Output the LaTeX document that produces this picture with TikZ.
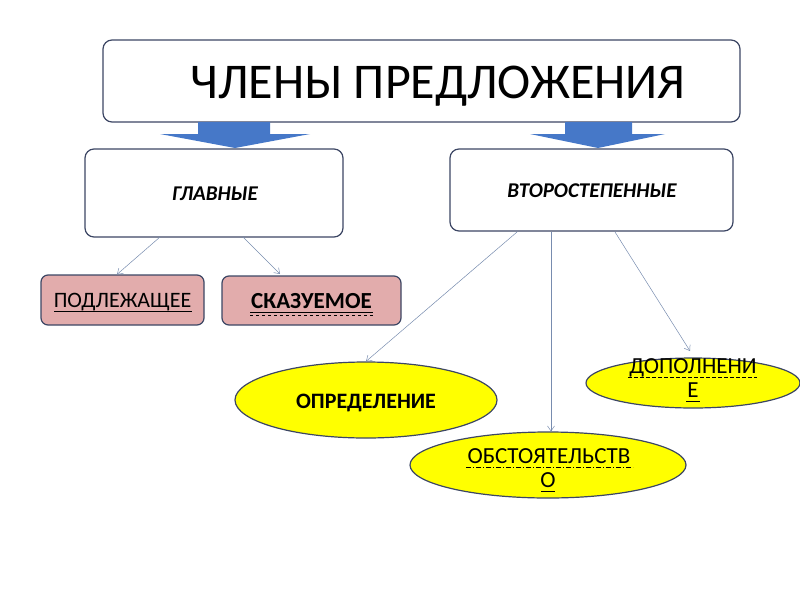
\documentclass[tikz,border=0pt]{standalone}
\usepackage{fontspec}
\setmainfont{Carlito}
\usetikzlibrary{shapes.geometric,arrows.meta}
\definecolor{edge}{RGB}{60,70,100}
\definecolor{pinkf}{RGB}{226,172,172}
\definecolor{yell}{RGB}{255,255,0}
\definecolor{bluea}{RGB}{70,120,200}
\definecolor{conn}{RGB}{120,140,175}
\tikzset{
  box/.style={draw=edge,line width=1.2pt,rounded corners=9pt,fill=white},
  leaf/.style={draw=edge,line width=1.2pt,rounded corners=7pt,fill=pinkf},
  oval/.style={ellipse,draw=edge,line width=1.2pt,fill=yell,inner sep=0pt},
  conn/.style={draw=conn,line width=0.5pt,-{Straight Barb[length=5pt,width=7pt]}},
  downarrow/.style={fill=bluea,draw=none},
  txt/.style={anchor=base,inner sep=0pt}
}
\begin{document}
\begin{tikzpicture}[x=1pt,y=-1pt]
\useasboundingbox (0,0) rectangle (800,600);
\node[box,minimum width=637pt,minimum height=82pt] (title) at (421.5,81) {};
\node[txt] (tt) at (438,98) {\fontsize{50}{54}\selectfont ЧЛЕНЫ ПРЕДЛОЖЕНИЯ};
\fill[downarrow] (198,122)--(270,122)--(270,134)--(310,134)--(235,148)--(160,134)--(198,134)--cycle;
\fill[downarrow] (565,122)--(632,122)--(632,134)--(665,134)--(598,148)--(530,134)--(565,134)--cycle;
\node[box,minimum width=258pt,minimum height=88pt] (main) at (214,193) {};
\node[txt] (mt) at (215,200) {\fontsize{21}{24}\selectfont\bfseries\itshape ГЛАВНЫЕ};
\node[box,minimum width=283pt,minimum height=82pt] (sec) at (591.5,190) {};
\node[txt] (st) at (592,197) {\fontsize{21}{24}\selectfont\bfseries\itshape ВТОРОСТЕПЕННЫЕ};
\node[leaf,minimum width=163pt,minimum height=50pt] (subj) at (122.5,300) {};
\node[txt] (subjt) at (122.5,307) {\fontsize{22}{24}\selectfont ПОДЛЕЖАЩЕЕ};
\draw[line width=0.8pt] (54,311)--(192,311);
\node[leaf,minimum width=179pt,minimum height=49pt] (pred) at (311.5,300.5) {};
\node[txt] (predt) at (311.5,308) {\fontsize{23}{26}\selectfont\bfseries СКАЗУЕМОЕ};
\draw[line width=0.9pt] (250,312)--(373,312);
\draw[line width=0.5pt,dashed] (250,315)--(373,315);
\node[oval,minimum width=262pt,minimum height=76pt] (def) at (366,400) {};
\node[txt] (deft) at (366,408) {\fontsize{22}{24}\selectfont\bfseries ОПРЕДЕЛЕНИЕ};
\node[oval,minimum width=276pt,minimum height=66pt] (adv) at (548,465) {};
\node[txt] (advt) at (549,463) {\fontsize{23}{25}\selectfont ОБСТОЯТЕЛЬСТВ};
\node[txt] (advt2) at (548,487) {\fontsize{23}{25}\selectfont О};
\draw[line width=0.7pt,dash pattern=on 5pt off 2pt on 1pt off 2pt] (466,467)--(633,467);
\draw[line width=0.7pt] (541,491)--(555,491);
\node[oval,minimum width=214pt,minimum height=50pt] (obj) at (693,383) {};
\node[txt] (objt) at (693,373) {\fontsize{23}{25}\selectfont ДОПОЛНЕНИ};
\node[txt] (objt2) at (693,397) {\fontsize{23}{25}\selectfont Е};
\draw[line width=0.7pt,dash pattern=on 4pt off 2pt] (628,377)--(757,377);
\draw[line width=0.7pt] (686,401)--(700,401);
\coordinate (m1) at (160,237); \coordinate (m2) at (243,237);
\draw[conn] (m1) -- (subj.north -| 117,0) ;
\draw[conn] (m2) -- (280,274);
\draw[conn] (517,232) -- (def.north);
\draw[conn] (551,232) -- (adv.north -| 551,0);
\draw[conn] (615,232) -- (690,351);
\end{tikzpicture}
\end{document}
